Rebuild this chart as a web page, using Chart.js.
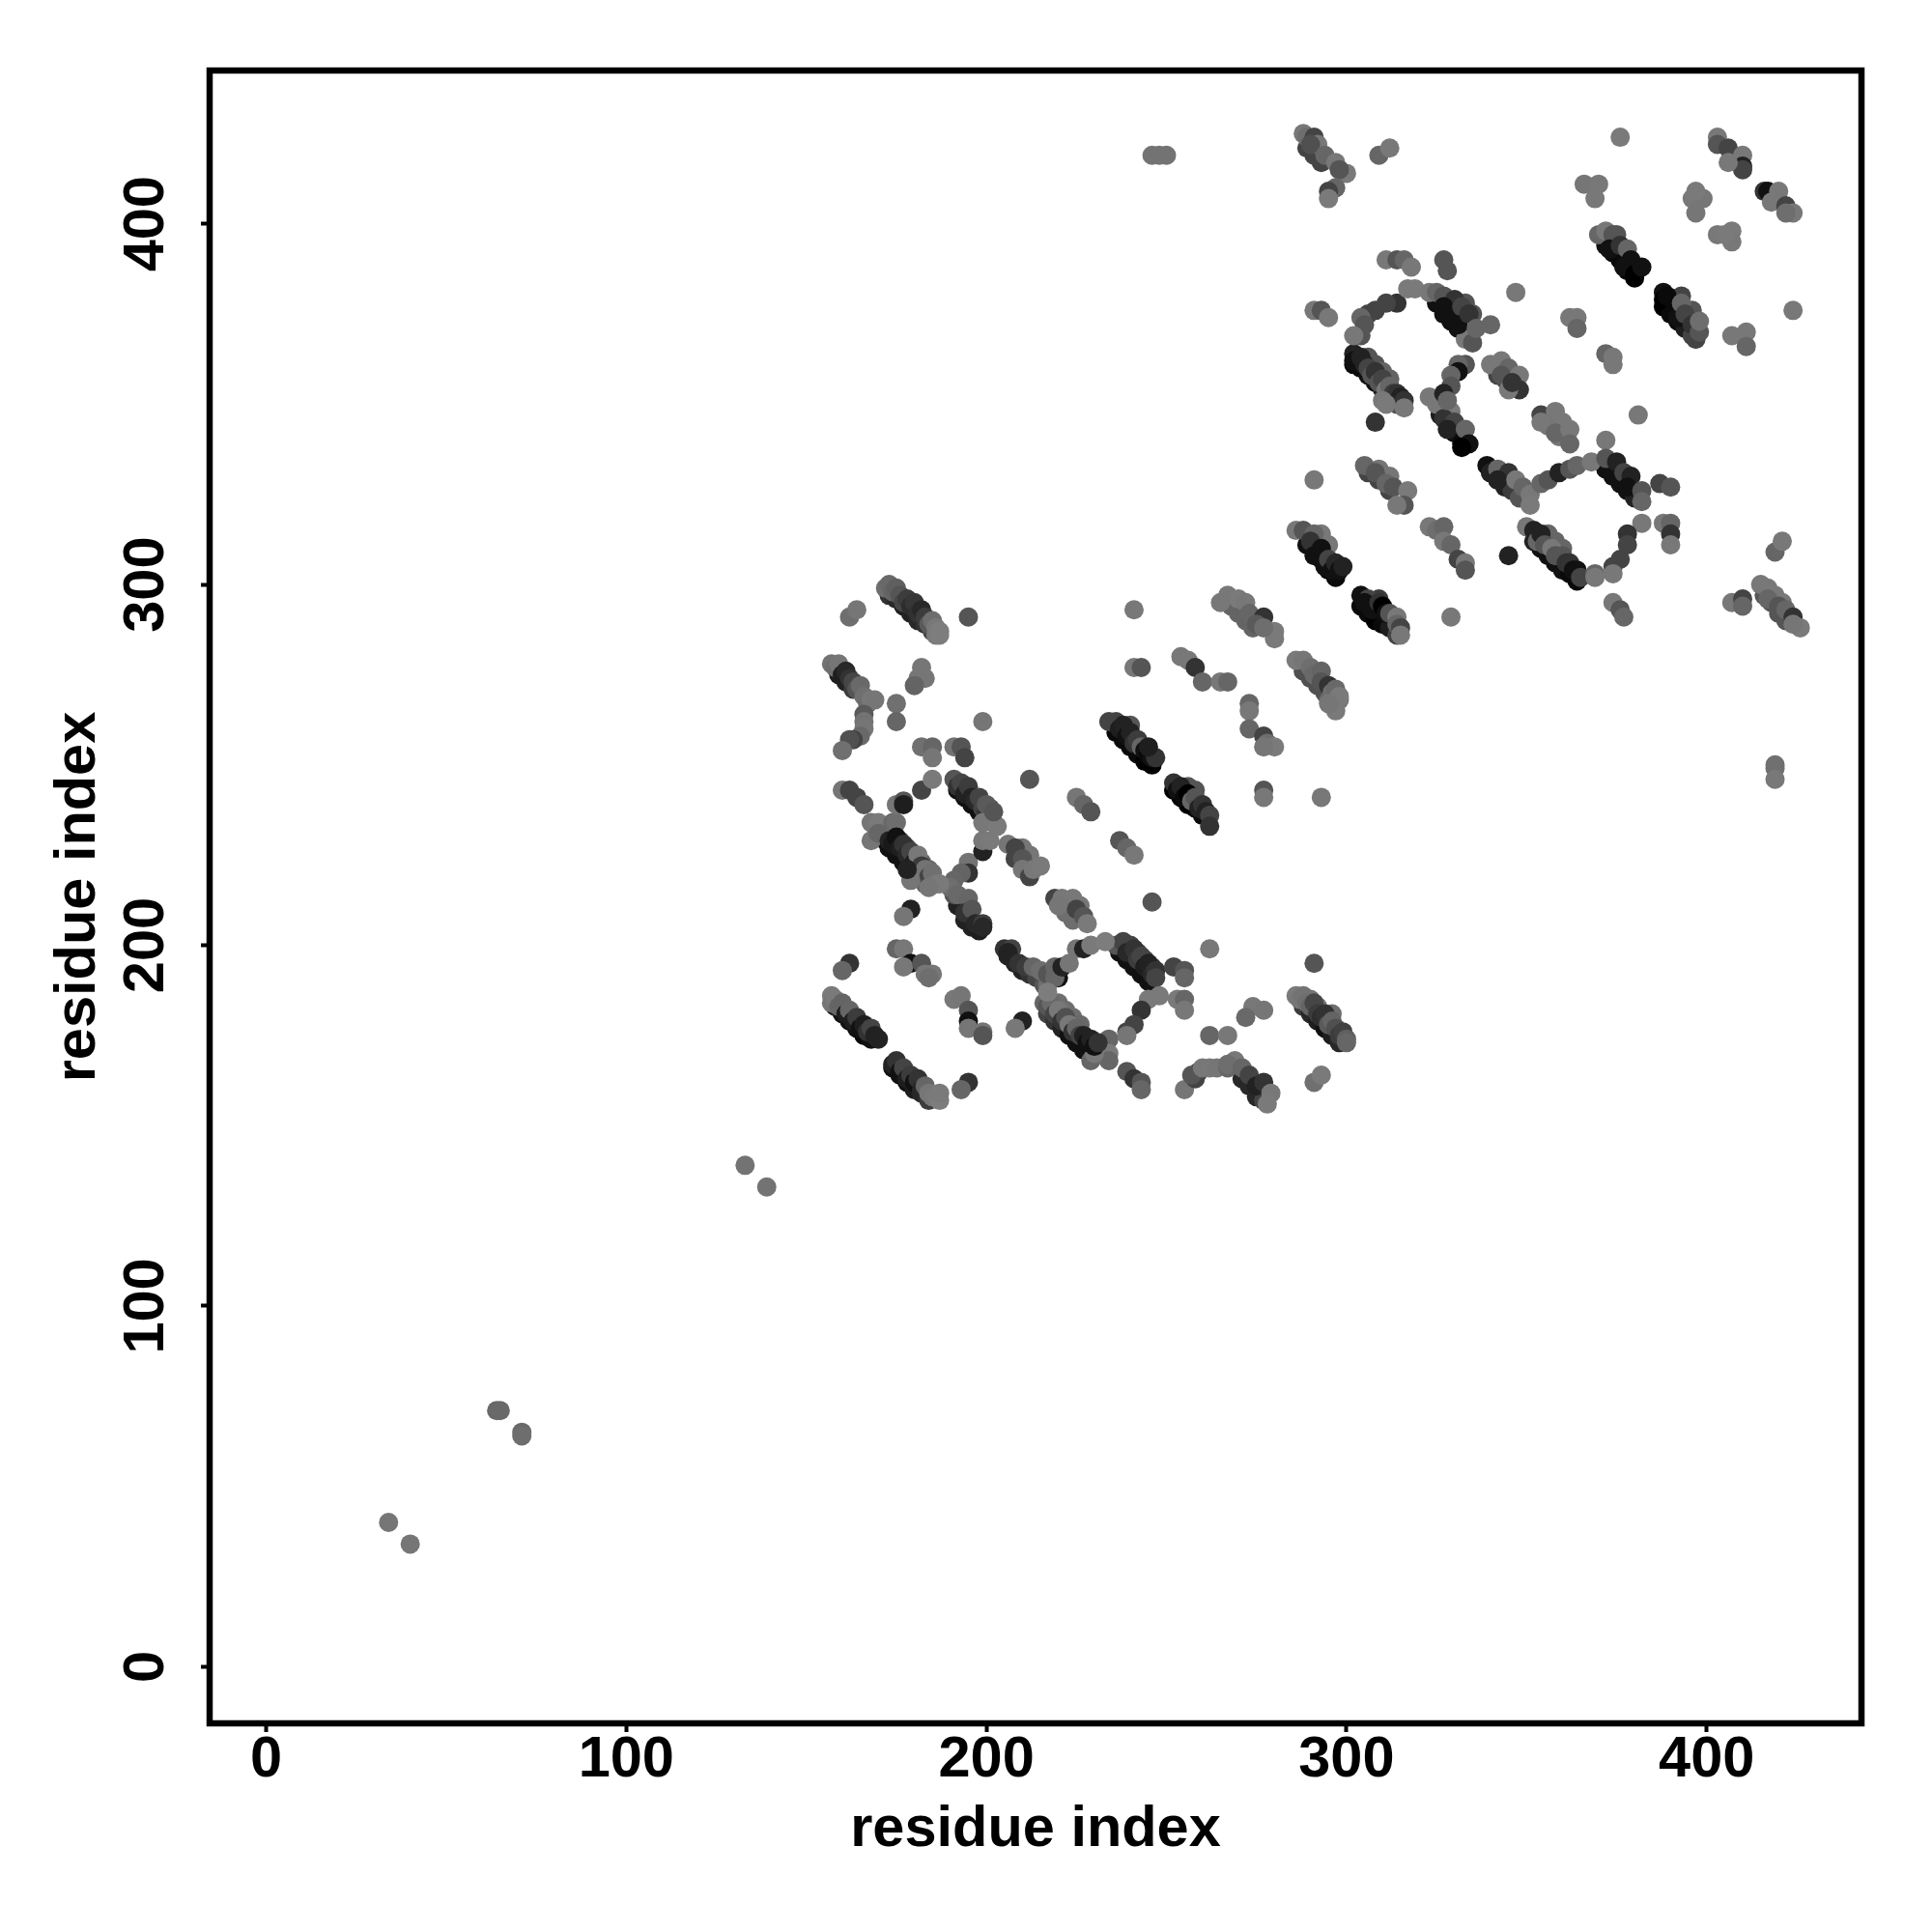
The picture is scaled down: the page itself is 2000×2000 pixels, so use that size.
<!DOCTYPE html>
<html>
<head>
<meta charset="utf-8">
<title>residue contact map</title>
<script src="https://cdn.jsdelivr.net/npm/chart.js@4"></script>
<style>
    html, body { margin: 0; padding: 0; background: #fff; }
    canvas { display: block; }
</style>
</head>
<body>
<canvas id="contactChart" width="2000" height="2000"></canvas>
<script>
// Axis labels and ticks
const axisTitle = 'residue index';
const tickValues = [0, 100, 200, 300, 400];

// Points, strand by strand: x, y, grey level
const aX = [34, 40, 64, 65, 71, 71, 133, 139];
const aY = [40, 34, 71, 71, 65, 64, 139, 133];
const aS = [118, 118, 105, 105, 105, 110, 115, 115];

const bX = [246, 248, 250, 419, 419, 419];
const bY = [419, 419, 419, 250, 249, 246];
const bS = [115, 115, 115, 112, 112, 120];

// lower left quadrant of the first block
const c1X = [172, 173, 174, 175, 176, 177, 178, 179, 180, 181, 182, 183, 184, 185, 186, 186, 187, 187, 162, 164, 195];
const c1Y = [299, 300, 298, 299, 297, 295, 296, 294, 295, 292, 293, 291, 289, 290, 288, 286, 287, 286, 291, 293, 291];
const c1S = [110, 105, 100, 95, 85, 70, 60, 45, 55, 50, 40, 60, 90, 110, 120, 122, 125, 125, 110, 118, 85];

const c2X = [157, 158, 159, 160, 161, 162, 163, 164, 165, 166, 167, 168, 169, 166, 166, 166, 165, 163, 162, 160];
const c2Y = [278, 277, 278, 275, 276, 274, 273, 271, 272, 269, 267, 268, 268, 264, 262, 260, 258, 257, 257, 254];
const c2S = [115, 110, 118, 30, 40, 50, 70, 85, 105, 112, 110, 120, 118, 90, 115, 118, 105, 68, 80, 112];

const c3X = [175, 175, 182, 183, 181, 180, 199, 182, 185, 185, 191, 193, 194, 212];
const c3Y = [267, 262, 277, 274, 274, 272, 262, 255, 255, 252, 255, 255, 252, 246];
const c3S = [112, 102, 118, 118, 118, 100, 118, 112, 102, 118, 115, 85, 68, 85];

const c4X = [160, 162, 164, 166, 175, 177, 177, 182, 185];
const c4Y = [243, 243, 241, 239, 239, 240, 239, 243, 246];
const c4S = [118, 68, 68, 85, 118, 85, 30, 68, 122];

const c5X = [191, 192, 193, 194, 195, 196, 197, 198, 199, 200, 201, 201, 202, 200, 199, 203, 202];
const c5Y = [246, 244, 245, 242, 244, 241, 240, 241, 238, 237, 238, 235, 234, 239, 234, 233, 237];
const c5S = [85, 51, 70, 34, 60, 34, 40, 68, 68, 51, 80, 40, 85, 90, 120, 122, 85];

const c6X = [168, 170, 174, 175, 168, 170, 173, 174, 175, 176, 177, 178, 179, 180, 181, 182, 183, 184, 185, 186, 187, 184, 179, 178];
const c6Y = [234, 234, 234, 234, 229, 231, 229, 228, 230, 227, 228, 225, 226, 223, 225, 222, 221, 219, 220, 217, 217, 216, 218, 221];
const c6S = [118, 122, 105, 110, 118, 102, 34, 25, 17, 30, 50, 40, 68, 30, 120, 60, 115, 68, 112, 118, 122, 118, 118, 34];

const c7X = [179, 177, 195, 195, 193, 191, 190, 192, 195, 194, 196, 197, 199, 199, 199, 199, 201];
const c7Y = [210, 208, 223, 220, 220, 218, 216, 214, 213, 209, 210, 206, 206, 205, 226, 229, 229];
const c7S = [34, 118, 115, 51, 100, 102, 110, 105, 102, 51, 85, 40, 60, 40, 34, 120, 122];

const c8X = [206, 208, 210, 210, 212, 213, 215, 219, 221, 224, 220, 225, 227, 228, 246];
const c8Y = [228, 227, 224, 221, 219, 221, 222, 213, 213, 213, 211, 210, 208, 206, 212];
const c8S = [118, 68, 85, 118, 68, 120, 122, 68, 120, 120, 118, 68, 85, 122, 85];

const c9X = [205, 207, 206, 209, 211, 213, 215, 217, 219, 219, 221, 223, 217, 225, 227, 229, 233];
const c9Y = [199, 199, 198, 195, 194, 194, 193, 192, 191, 194, 194, 195, 187, 199, 199, 200, 201];
const c9S = [51, 68, 34, 51, 60, 102, 110, 85, 102, 102, 34, 118, 125, 118, 34, 122, 125];

const c10X = [236, 238, 239, 241, 242, 243, 244, 245, 246, 247, 247, 252, 255, 255, 248, 245, 243, 241, 239, 239];
const c10Y = [200, 201, 198, 199, 196, 197, 194, 195, 192, 193, 191, 194, 193, 191, 186, 185, 182, 178, 176, 175];
const c10S = [85, 68, 40, 51, 60, 68, 30, 34, 40, 51, 68, 68, 85, 102, 122, 122, 51, 68, 68, 118];

const c11X = [253, 255, 255, 262, 291, 216, 217, 218, 219, 220, 221, 222, 223, 224, 225, 226, 227, 228, 229, 230, 231];
const c11Y = [185, 185, 182, 199, 195, 184, 183, 184, 181, 182, 179, 180, 178, 176, 177, 175, 175, 173, 174, 172, 173];
const c11S = [122, 102, 120, 120, 85, 102, 85, 105, 68, 120, 51, 80, 120, 51, 102, 68, 34, 17, 34, 17, 51];

const c12X = [234, 234, 234, 229, 230, 210, 208, 191, 193, 195, 195, 195, 199, 199];
const c12Y = [174, 170, 168, 168, 170, 179, 177, 185, 186, 182, 179, 177, 176, 175];
const c12S = [102, 122, 102, 102, 120, 34, 120, 120, 118, 85, 17, 118, 118, 85];

const c13X = [175, 177, 179, 177, 182, 183, 185, 184, 162, 160];
const c13Y = [199, 199, 195, 194, 195, 192, 192, 191, 195, 193];
const c13S = [102, 120, 17, 120, 85, 118, 118, 110, 51, 102];

const c14X = [157, 157, 158, 159, 160, 161, 162, 163, 164, 165, 166, 167, 168, 169, 170];
const c14Y = [186, 184, 185, 183, 184, 181, 182, 179, 180, 177, 178, 176, 177, 175, 174];
const c14S = [122, 118, 122, 102, 100, 30, 102, 30, 60, 17, 30, 50, 68, 34, 34];

const c15X = [174, 175, 176, 177, 178, 179, 180, 181, 182, 183, 184, 185, 186, 187, 187, 195, 193];
const c15Y = [167, 168, 165, 166, 163, 164, 162, 163, 160, 161, 159, 158, 158, 157, 159, 162, 160];
const c15S = [34, 51, 17, 68, 30, 60, 17, 51, 40, 102, 118, 120, 122, 125, 122, 51, 102];

// lower right part of the first block
const c16X = [239, 241, 243, 243, 255, 258, 257, 260, 262, 264, 267, 269, 267, 271, 273, 275, 277, 279, 278];
const c16Y = [165, 163, 162, 160, 160, 163, 164, 166, 166, 166, 166, 168, 167, 166, 164, 161, 162, 159, 156];
const c16S = [85, 51, 85, 102, 118, 68, 85, 120, 120, 118, 102, 120, 110, 102, 68, 34, 51, 120, 122];

const c17X = [262, 267, 274, 277, 272, 291, 293];
const c17Y = [175, 175, 183, 182, 180, 162, 164];
const c17S = [102, 120, 120, 118, 105, 112, 122];

const c18X = [286, 287, 288, 289, 290, 291, 292, 293, 294, 295, 296, 297, 298, 299, 300, 300];
const c18Y = [186, 185, 186, 184, 183, 184, 181, 180, 181, 178, 179, 177, 175, 176, 174, 173];
const c18S = [122, 118, 115, 110, 100, 70, 60, 45, 50, 90, 100, 80, 60, 65, 95, 102];

// upper right part of the first block
const c19X = [241, 241, 243, 254, 256, 258, 260, 265, 267, 273, 273, 273, 277, 278, 280, 277, 277, 277, 293];
const c19Y = [293, 277, 277, 280, 279, 277, 273, 273, 273, 267, 265, 260, 258, 256, 255, 255, 243, 241, 241];
const c19S = [120, 120, 85, 120, 120, 51, 102, 120, 102, 102, 120, 102, 68, 110, 122, 118, 85, 120, 120];

const c20X = [234, 236, 237, 238, 239, 240, 241, 242, 243, 244, 245, 246, 247, 245];
const c20Y = [262, 262, 260, 261, 258, 259, 256, 257, 255, 254, 253, 252, 252, 255];
const c20S = [68, 68, 30, 34, 17, 34, 51, 60, 102, 17, 10, 17, 51, 30];

const c21X = [252, 253, 254, 255, 256, 257, 258, 259, 260, 261, 262, 262];
const c21Y = [245, 243, 244, 241, 242, 240, 241, 238, 239, 237, 236, 233];
const c21S = [51, 17, 34, 10, 0, 102, 85, 34, 51, 34, 68, 51];

const c22X = [225, 227, 229, 237, 239, 241];
const c22Y = [241, 239, 237, 229, 227, 225];
const c22S = [118, 102, 85, 85, 102, 120];

const c23X = [265, 267, 270, 272, 273, 277, 275, 280, 280, 277];
const c23Y = [295, 297, 296, 295, 292, 291, 289, 287, 285, 288];
const c23S = [120, 120, 122, 120, 102, 51, 90, 122, 122, 110];

const c24X = [286, 288, 290, 291, 293, 293, 295, 296, 297, 298, 298, 297, 295];
const c24Y = [279, 279, 277, 275, 276, 273, 272, 270, 271, 268, 269, 265, 267];
const c24S = [122, 118, 110, 105, 100, 85, 51, 110, 105, 118, 122, 122, 118];

// second block, top left
const d1X = [288, 289, 291, 292, 290, 294, 297, 300, 298, 297, 295, 295, 309, 312, 376];
const d1Y = [425, 424, 424, 422, 422, 419, 417, 414, 415, 410, 409, 407, 419, 421, 424];
const d1S = [120, 110, 68, 120, 80, 102, 120, 122, 85, 102, 68, 122, 102, 120, 122];

const d2X = [403, 403, 406, 410, 410, 410, 406, 416, 417, 420, 418, 422, 424, 422];
const d2Y = [424, 422, 421, 419, 416, 415, 417, 409, 409, 409, 406, 405, 403, 403];
const d2S = [120, 85, 68, 120, 34, 68, 120, 51, 17, 120, 120, 68, 120, 110];

const d3X = [366, 370, 369, 396, 399, 397, 397, 403, 407, 407, 405];
const d3Y = [411, 411, 407, 407, 407, 403, 409, 397, 398, 395, 397];
const d3S = [118, 120, 120, 120, 118, 118, 122, 120, 122, 120, 122];

const d4X = [370, 372, 374, 373, 376, 378, 379, 377, 380, 382];
const d4Y = [397, 398, 397, 393, 394, 393, 390, 388, 386, 388];
const d4S = [102, 120, 85, 17, 51, 102, 17, 17, 0, 17];

const d5X = [388, 388, 389, 391, 392, 393, 394, 396, 397, 398, 398];
const d5Y = [381, 379, 380, 376, 374, 378, 375, 372, 368, 370, 373];
const d5S = [17, 0, 10, 10, 17, 102, 68, 51, 68, 85, 110];

const d6X = [407, 411, 411, 424, 362, 364, 364, 372, 374, 374, 347];
const d6Y = [369, 370, 366, 376, 374, 374, 371, 364, 363, 361, 381];
const d6S = [120, 120, 102, 120, 120, 120, 102, 102, 120, 120, 120];

const d7X = [311, 314, 316, 318, 327, 328];
const d7Y = [390, 390, 390, 388, 390, 387];
const d7S = [120, 85, 102, 120, 85, 85];

// upper ring of the second block
const d8X = [317, 319, 323, 325, 327, 330, 327, 329, 332, 331, 334, 336, 340];
const d8Y = [382, 382, 381, 381, 380, 379, 377, 374, 377, 372, 375, 371, 372];
const d8S = [122, 122, 120, 102, 85, 51, 17, 17, 68, 17, 51, 102, 102];

const d9X = [333, 335, 333, 331, 331, 329, 329, 327, 328];
const d9Y = [368, 367, 361, 361, 359, 358, 355, 353, 351];
const d9S = [120, 85, 85, 102, 17, 102, 85, 34, 102];

const d10X = [314, 311, 308, 306, 304, 305, 304, 302];
const d10Y = [378, 378, 376, 375, 374, 372, 369, 369];
const d10S = [51, 68, 68, 68, 102, 85, 85, 120];

const d11X = [291, 293, 295, 302, 302, 303, 304, 305, 306, 307, 308, 309, 310, 311, 312, 313, 314, 315, 316, 316, 310, 311];
const d11Y = [376, 376, 374, 364, 362, 362, 363, 361, 360, 358, 359, 356, 357, 354, 355, 353, 353, 352, 351, 349, 351, 350];
const d11S = [120, 85, 120, 34, 17, 17, 34, 34, 68, 85, 51, 85, 68, 120, 102, 60, 51, 34, 51, 120, 120, 122];

const d12X = [308, 323, 325, 329, 327, 330, 328, 333, 334, 332];
const d12Y = [345, 352, 350, 348, 346, 345, 343, 343, 339, 338];
const d12S = [51, 120, 120, 122, 51, 68, 34, 102, 17, 0];

const d13X = [340, 343, 345, 343, 348, 348, 345, 346, 354, 358, 354, 360, 358, 362, 362, 381];
const d13Y = [361, 362, 360, 358, 358, 354, 354, 356, 347, 348, 345, 345, 342, 343, 339, 347];
const d13S = [120, 120, 102, 85, 120, 51, 120, 51, 68, 120, 120, 120, 102, 120, 102, 120];

const d14X = [372, 368, 372, 375, 377, 379, 378, 382, 382, 382, 378, 378, 376, 374, 374];
const d14Y = [340, 334, 335, 334, 331, 330, 327, 326, 323, 317, 314, 311, 307, 305, 303];
const d14S = [120, 120, 85, 34, 68, 34, 17, 85, 102, 120, 51, 68, 68, 68, 120];

const d15X = [387, 390, 388, 390, 390, 390];
const d15Y = [328, 327, 317, 317, 314, 311];
const d15S = [68, 85, 120, 102, 51, 120];

// middle of the second block
const d16X = [339, 340, 342, 345, 342, 347, 349, 351, 351, 354, 356, 359, 362, 364];
const d16Y = [333, 331, 332, 331, 329, 329, 327, 325, 322, 328, 329, 331, 332, 333];
const d16S = [17, 34, 102, 51, 34, 120, 102, 120, 122, 102, 85, 34, 85, 102];

const d17X = [350, 352, 353, 354, 355, 357, 358, 360, 361, 362, 363, 364, 365, 369, 369, 345];
const d17Y = [316, 315, 312, 314, 311, 310, 308, 308, 306, 306, 304, 304, 302, 303, 302, 308];
const d17S = [120, 34, 102, 34, 85, 120, 85, 85, 51, 51, 17, 17, 68, 102, 120, 34];

const d18X = [323, 325, 327, 327, 329, 331, 333, 333, 329];
const d18Y = [316, 315, 316, 312, 311, 307, 306, 304, 291];
const d18S = [120, 110, 102, 120, 102, 68, 120, 85, 120];

const d19X = [291, 305, 308, 311, 313, 317, 316, 314];
const d19Y = [329, 333, 331, 328, 327, 326, 322, 322];
const d19S = [120, 102, 85, 102, 85, 122, 85, 120];

const d20X = [286, 288, 291, 290, 291, 293, 294, 295, 296, 297, 298, 299];
const d20Y = [315, 315, 314, 312, 308, 310, 305, 307, 304, 306, 304, 305];
const d20S = [120, 85, 102, 51, 17, 17, 17, 68, 17, 40, 17, 34];

const d21X = [304, 306, 305, 307, 309, 310, 311, 312, 314, 314, 315, 315];
const d21Y = [297, 296, 295, 293, 295, 294, 292, 292, 291, 289, 288, 286];
const d21S = [17, 68, 17, 17, 51, 0, 17, 85, 120, 102, 68, 120];

const d22X = [374, 376, 377, 419, 421, 407, 410, 410, 415, 417, 420, 422, 424, 426, 424];
const d22Y = [295, 293, 291, 309, 312, 295, 296, 294, 300, 296, 294, 293, 291, 288, 289];
const d22S = [120, 85, 102, 102, 120, 120, 68, 102, 120, 102, 85, 102, 51, 122, 118];

// Darker and lighter edges of the thick strands, these go underneath the rest
const e1X = [173, 175, 177, 179, 181, 183, 185, 158, 160, 162, 164, 166, 168, 174, 176, 178, 180, 182, 184];
const e1Y = [297, 296, 294, 292, 290, 289, 287, 183, 181, 179, 177, 175, 174, 166, 164, 162, 160, 159, 157];
const e1S = [50, 40, 30, 34, 40, 50, 70, 34, 17, 17, 17, 10, 17, 17, 17, 17, 30, 40, 60];

const e2X = [159, 161, 163, 192, 194, 196, 198, 200, 172, 173, 175, 177, 179, 181, 183, 176, 178, 180, 182, 184];
const e2Y = [275, 273, 271, 243, 241, 239, 237, 235, 229, 227, 225, 223, 221, 219, 217, 229, 227, 225, 223, 221];
const e2S = [30, 34, 60, 17, 17, 17, 17, 17, 17, 17, 17, 17, 34, 60, 100, 80, 85, 100, 100, 105];

const e3X = [192, 194, 196, 198, 191, 206, 208, 210, 212, 214, 216, 217, 220];
const e3Y = [211, 207, 205, 204, 214, 197, 195, 193, 192, 191, 189, 189, 191];
const e3S = [34, 34, 34, 30, 85, 34, 34, 34, 50, 70, 85, 110, 17];

const e4X = [237, 239, 241, 243, 245, 240, 242, 244, 246, 217, 219, 221, 223, 225, 227, 229, 220, 222, 224, 226];
const e4Y = [198, 196, 194, 192, 190, 200, 198, 196, 194, 181, 179, 177, 175, 173, 171, 171, 184, 182, 180, 178];
const e4S = [17, 17, 17, 17, 17, 68, 68, 68, 68, 68, 51, 34, 17, 17, 17, 17, 110, 110, 110, 105];

const e5X = [236, 238, 240, 242, 244, 246, 240, 252, 254, 256, 258, 260, 256, 258];
const e5Y = [259, 257, 255, 253, 251, 250, 261, 243, 241, 239, 238, 236, 244, 243];
const e5S = [10, 10, 10, 10, 0, 0, 85, 0, 0, 0, 0, 10, 85, 85];

const e6X = [288, 290, 292, 294, 296, 298, 290, 292, 296, 302, 304, 306, 308, 310, 312, 314, 306, 308, 310, 312];
const e6Y = [183, 181, 179, 177, 175, 173, 185, 183, 181, 361, 360, 358, 356, 354, 352, 350, 363, 361, 359, 357];
const e6S = [60, 40, 30, 17, 30, 40, 118, 118, 110, 10, 10, 17, 17, 30, 50, 80, 85, 85, 100, 100];

const e7X = [326, 328, 330, 332, 325, 327, 329, 331, 333, 335, 352, 354, 356, 358, 360, 362, 364, 356, 358, 360];
const e7Y = [347, 345, 342, 339, 378, 375, 373, 371, 378, 375, 312, 310, 308, 306, 304, 303, 301, 314, 312, 310];
const e7S = [30, 17, 17, 10, 17, 17, 17, 17, 85, 85, 34, 17, 17, 17, 17, 10, 10, 102, 102, 102];

const e8X = [340, 342, 344, 346, 348, 372, 374, 376, 378, 380, 289, 291, 293, 295, 297, 293, 295];
const e8Y = [331, 329, 327, 326, 324, 332, 330, 328, 326, 324, 311, 309, 307, 304, 302, 314, 311];
const e8S = [17, 17, 34, 60, 85, 17, 17, 17, 17, 34, 17, 17, 17, 10, 10, 120, 120];

const e9X = [304, 306, 308, 310, 312, 314, 309, 372, 374, 376, 378, 380, 375, 388, 390, 392, 394, 396, 393, 396];
const e9Y = [294, 292, 290, 289, 288, 286, 296, 394, 392, 390, 387, 385, 397, 377, 375, 373, 371, 369, 380, 376];
const e9S = [10, 10, 0, 10, 30, 68, 60, 17, 10, 10, 0, 0, 85, 0, 10, 10, 30, 68, 68, 85];

const e10X = [289, 291, 293, 268, 270, 272, 274, 288, 290, 292, 294, 295, 306, 309, 312, 309, 312];
const e10Y = [421, 419, 417, 294, 292, 290, 288, 276, 274, 272, 270, 268, 331, 329, 326, 332, 330];
const e10S = [68, 68, 68, 100, 100, 100, 100, 80, 80, 80, 80, 100, 68, 68, 68, 118, 118];

const e11X = [356, 359, 342, 345, 344, 208, 211, 210, 212, 222, 224, 226, 271, 273, 275, 277, 259, 416, 418, 420, 422, 417, 419, 421];
const e11Y = [344, 341, 358, 355, 357, 224, 222, 227, 225, 209, 207, 211, 163, 161, 158, 157, 165, 297, 295, 292, 290, 299, 297, 295];
const e11S = [118, 118, 68, 68, 68, 68, 68, 118, 118, 110, 110, 118, 40, 40, 40, 68, 68, 85, 85, 85, 85, 120, 120, 120];

const strands = [
    [aX, aY, aS], [bX, bY, bS],
    [c1X, c1Y, c1S], [c2X, c2Y, c2S], [c3X, c3Y, c3S], [c4X, c4Y, c4S],
    [c5X, c5Y, c5S], [c6X, c6Y, c6S], [c7X, c7Y, c7S], [c8X, c8Y, c8S],
    [c9X, c9Y, c9S], [c10X, c10Y, c10S], [c11X, c11Y, c11S], [c12X, c12Y, c12S],
    [c13X, c13Y, c13S], [c14X, c14Y, c14S], [c15X, c15Y, c15S], [c16X, c16Y, c16S],
    [c17X, c17Y, c17S], [c18X, c18Y, c18S], [c19X, c19Y, c19S], [c20X, c20Y, c20S],
    [c21X, c21Y, c21S], [c22X, c22Y, c22S], [c23X, c23Y, c23S], [c24X, c24Y, c24S],
    [d1X, d1Y, d1S], [d2X, d2Y, d2S], [d3X, d3Y, d3S], [d4X, d4Y, d4S],
    [d5X, d5Y, d5S], [d6X, d6Y, d6S], [d7X, d7Y, d7S], [d8X, d8Y, d8S],
    [d9X, d9Y, d9S], [d10X, d10Y, d10S], [d11X, d11Y, d11S], [d12X, d12Y, d12S],
    [d13X, d13Y, d13S], [d14X, d14Y, d14S], [d15X, d15Y, d15S], [d16X, d16Y, d16S],
    [d17X, d17Y, d17S], [d18X, d18Y, d18S], [d19X, d19Y, d19S], [d20X, d20Y, d20S],
    [d21X, d21Y, d21S], [d22X, d22Y, d22S],
    [e1X, e1Y, e1S], [e2X, e2Y, e2S], [e3X, e3Y, e3S], [e4X, e4Y, e4S],
    [e5X, e5Y, e5S], [e6X, e6Y, e6S], [e7X, e7Y, e7S], [e8X, e8Y, e8S],
    [e9X, e9Y, e9S], [e10X, e10Y, e10S], [e11X, e11Y, e11S]
];

const datasets = strands.map(([xs, ys, greys]) => ({
    data: xs.map((x, i) => ({ x: x, y: ys[i] })),
    pointRadius: 10,
    pointBorderWidth: 0,
    pointBackgroundColor: greys.map(g => `rgb(${g},${g},${g})`),
    showLine: false
}));

const boldFont = { family: '"Liberation Sans"', size: 59.5, weight: 'bold' };

// Box around the plot
const frame = {
    id: 'frame',
    afterDraw(chart) {
        const { ctx, chartArea: a } = chart;
        ctx.save();
        ctx.strokeStyle = '#000';
        ctx.lineWidth = 6.5;
        ctx.strokeRect(a.left, a.top, a.right - a.left, a.bottom - a.top);
        ctx.restore();
    }
};

const sharedGrid = {
    drawOnChartArea: false,
    drawTicks: true,
    tickLength: 9,
    tickWidth: 4,
    tickColor: '#000'
};

new Chart(document.getElementById('contactChart').getContext('2d'), {
    type: 'scatter',
    data: { datasets: datasets },
    options: {
        responsive: false,
        animation: false,
        layout: { padding: { top: 73, right: 73, left: 0, bottom: 0 } },
        plugins: { legend: { display: false }, tooltip: { enabled: false } },
        scales: {
            x: {
                type: 'linear',
                min: -15.7,
                max: 443,
                afterFit(scale) { scale.height = 216; },
                afterBuildTicks(scale) { scale.ticks = tickValues.map(v => ({ value: v })); },
                grid: sharedGrid,
                border: { display: false },
                ticks: { includeBounds: false, font: boldFont, color: '#000', padding: -6, maxRotation: 0 },
                title: { display: true, text: axisTitle, font: boldFont, color: '#000', padding: { top: 2, bottom: 70 } }
            },
            y: {
                type: 'linear',
                min: -15.7,
                max: 442.5,
                afterFit(scale) { scale.width = 217; },
                afterBuildTicks(scale) { scale.ticks = tickValues.map(v => ({ value: v })); },
                grid: sharedGrid,
                border: { display: false },
                ticks: { includeBounds: false, font: boldFont, color: '#000', padding: 6, minRotation: 90, maxRotation: 90, crossAlign: 'center' },
                title: { display: true, text: axisTitle, font: boldFont, color: '#000', padding: { top: 46, bottom: 0 } }
            }
        }
    },
    plugins: [frame]
});
</script>
</body>
</html>
